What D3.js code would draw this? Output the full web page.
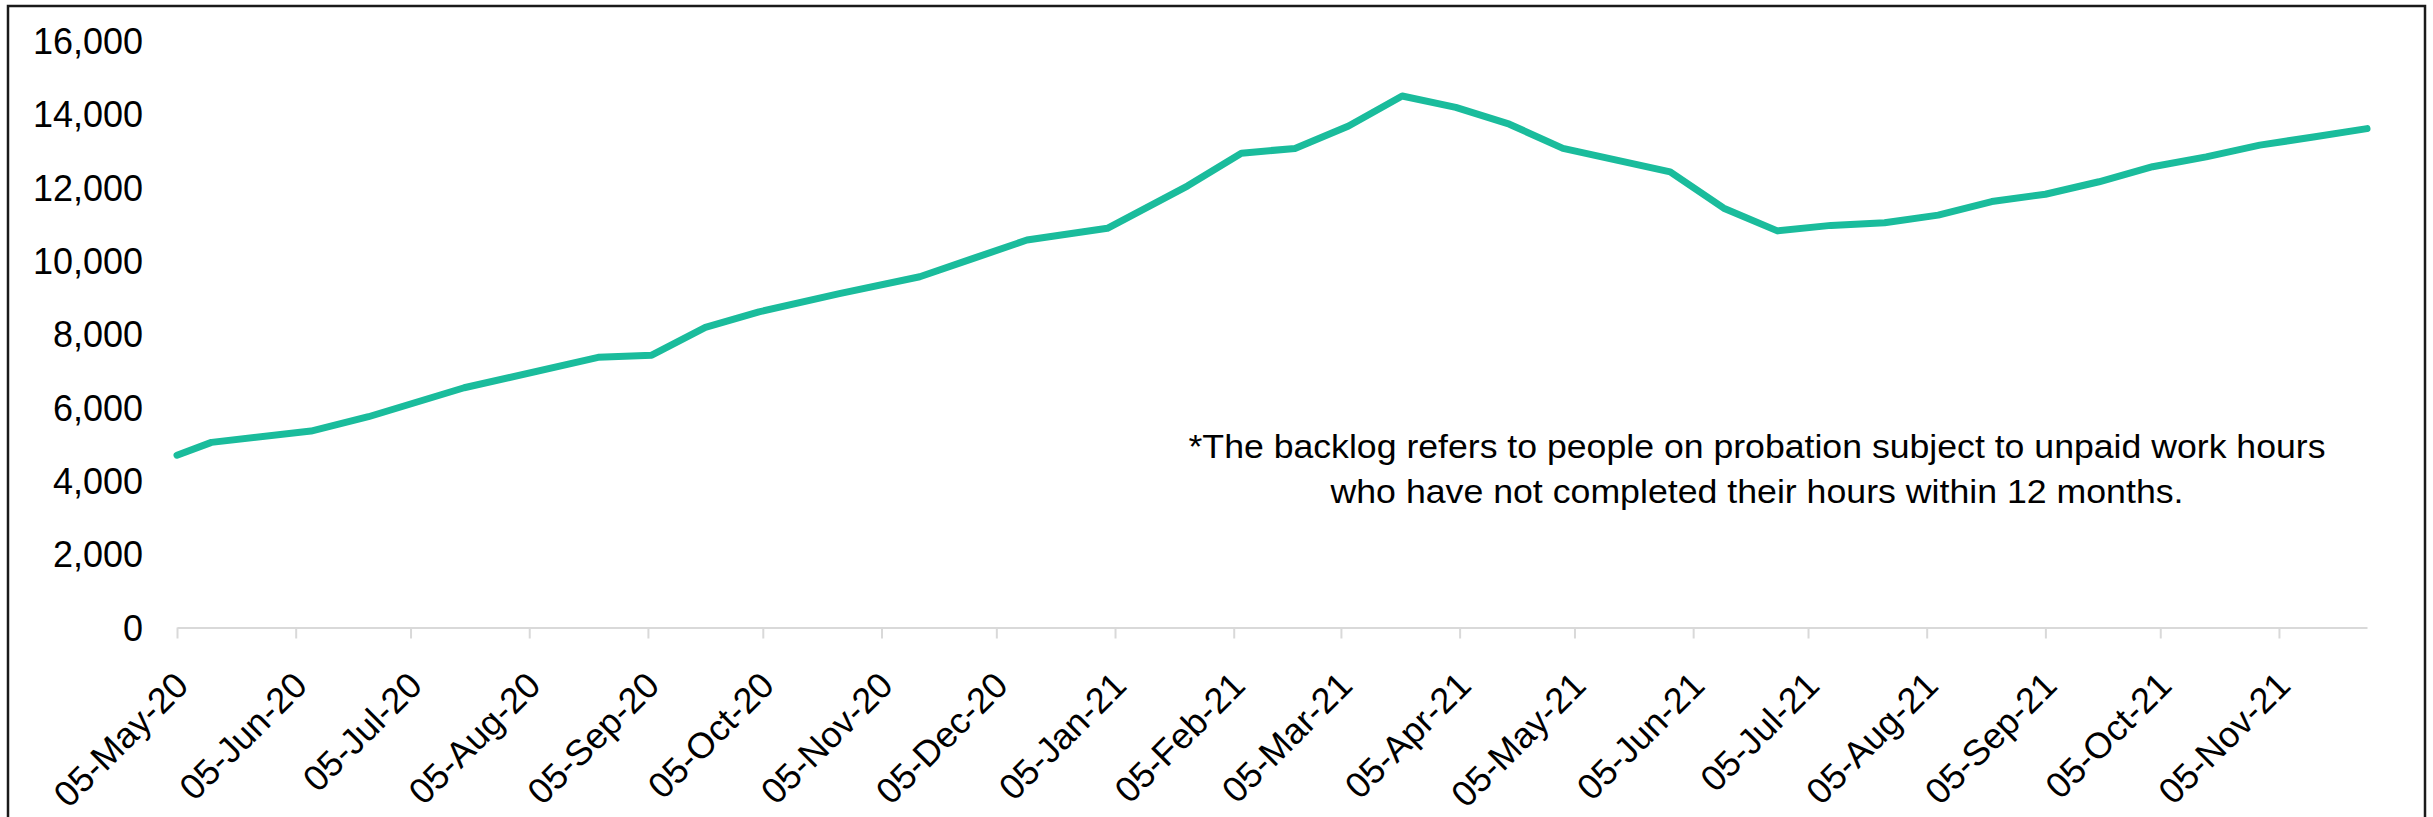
<!DOCTYPE html>
<html>
<head>
<meta charset="utf-8">
<script src="https://cdn.jsdelivr.net/npm/d3@7"></script>
<style>
  html, body { margin: 0; padding: 0; background: #ffffff; }
  svg { display: block; }
</style>
</head>
<body>
<svg id="chart" width="2433" height="817"></svg>
<script>
// Unpaid work backlog, fortnightly snapshots
const dates = [
  "2020-05-05", "2020-05-14", "2020-06-09", "2020-06-24", "2020-07-19",
  "2020-08-23", "2020-09-06", "2020-09-20", "2020-10-04", "2020-10-25",
  "2020-11-15", "2020-11-29", "2020-12-13", "2021-01-03", "2021-01-24",
  "2021-02-07", "2021-02-21", "2021-03-07", "2021-03-21", "2021-04-04",
  "2021-04-18", "2021-05-02", "2021-05-16", "2021-05-30", "2021-06-13",
  "2021-06-27", "2021-07-11", "2021-07-25", "2021-08-08", "2021-08-22",
  "2021-09-05", "2021-09-19", "2021-10-03", "2021-10-17", "2021-10-31",
  "2021-11-14", "2021-11-28"
];
const backlog = [
  4700, 5050, 5360, 5750, 6540,
  7370, 7430, 8190, 8610, 9110,
  9570, 10070, 10570, 10890, 12050,
  12940, 13070, 13680, 14500, 14190,
  13730, 13070, 12750, 12430, 11440,
  10820, 10970, 11040, 11250, 11620,
  11820, 12160, 12570, 12840, 13160,
  13380, 13610
];
const xTickLabels = [
  "05-May-20", "05-Jun-20", "05-Jul-20", "05-Aug-20", "05-Sep-20",
  "05-Oct-20", "05-Nov-20", "05-Dec-20", "05-Jan-21", "05-Feb-21",
  "05-Mar-21", "05-Apr-21", "05-May-21", "05-Jun-21", "05-Jul-21",
  "05-Aug-21", "05-Sep-21", "05-Oct-21", "05-Nov-21"
];
const yTickValues = [0, 2000, 4000, 6000, 8000, 10000, 12000, 14000, 16000];
const noteLines = [
  "*The backlog refers to people on probation subject to unpaid work hours",
  "who have not completed their hours within 12 months."
];

const parseDate = d3.timeParse("%Y-%m-%d");
const parseTick = d3.timeParse("%d-%b-%y");
const formatTick = d3.timeFormat("%d-%b-%y");

const points = dates.map((d, i) => ({ date: parseDate(d), value: backlog[i] }));
const tickDates = xTickLabels.map(parseTick);

const svg = d3.select("#chart");

// outer frame
svg.append("rect")
  .attr("x", 8).attr("y", 6)
  .attr("width", 2417).attr("height", 840)
  .attr("fill", "#ffffff")
  .attr("stroke", "#1a1a1a")
  .attr("stroke-width", 2.5);

const x = d3.scaleTime()
  .domain(d3.extent(points, d => d.date))
  .range([177, 2367]);

const y = d3.scaleLinear()
  .domain([0, 16000])
  .range([627.5, 41]);

// value axis: labels only
const yAxis = svg.append("g")
  .attr("transform", "translate(143,0)")
  .call(d3.axisLeft(y).tickValues(yTickValues).tickFormat(d3.format(",")).tickSize(0).tickPadding(0));
yAxis.select(".domain").remove();
yAxis.selectAll("text")
  .attr("font-family", "'Liberation Sans', Arial, sans-serif")
  .attr("font-size", 36)
  .attr("fill", "#000000")
  .attr("dy", "0.35em");

// date axis
const xAxis = svg.append("g")
  .attr("transform", `translate(0,${y(0)})`)
  .call(d3.axisBottom(x).tickValues(tickDates).tickFormat(formatTick).tickSize(11).tickSizeOuter(0));
xAxis.select(".domain").attr("stroke", "#d9d9d9").attr("stroke-width", 2);
xAxis.selectAll(".tick line").attr("stroke", "#d9d9d9").attr("stroke-width", 2);
xAxis.selectAll(".tick text")
  .attr("font-family", "'Liberation Sans', Arial, sans-serif")
  .attr("font-size", 36)
  .attr("fill", "#000000")
  .attr("text-anchor", "end")
  .attr("dy", null)
  .attr("y", 0)
  .attr("transform", "translate(13,60) rotate(-45)");

// backlog line
const line = d3.line()
  .x(d => x(d.date))
  .y(d => y(d.value));

svg.append("path")
  .datum(points)
  .attr("d", line)
  .attr("fill", "none")
  .attr("stroke", "#1abc9c")
  .attr("stroke-width", 7)
  .attr("stroke-linejoin", "round")
  .attr("stroke-linecap", "round");

// footnote
const noteWidths = [1137, 853];
const note = svg.append("text")
  .attr("font-family", "'Liberation Sans Narrow', 'Liberation Sans', Arial, sans-serif")
  .attr("font-size", 34)
  .attr("fill", "#000000")
  .attr("text-anchor", "middle");
note.selectAll("tspan")
  .data(noteLines)
  .join("tspan")
  .attr("x", 1757)
  .attr("y", (d, i) => 458 + i * 45)
  .attr("textLength", (d, i) => noteWidths[i])
  .attr("lengthAdjust", "spacingAndGlyphs")
  .text(d => d);
</script>
</body>
</html>
